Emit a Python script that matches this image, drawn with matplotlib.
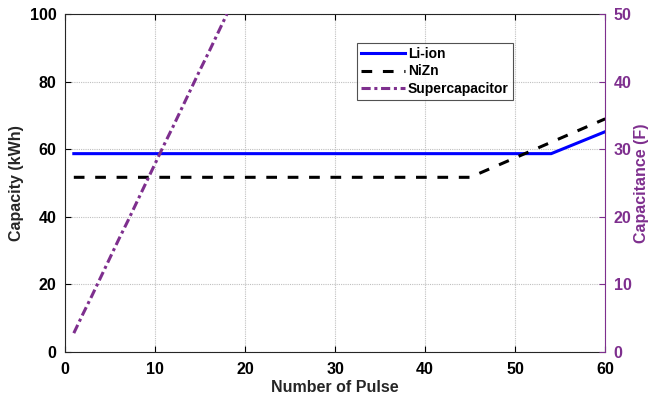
import matplotlib
matplotlib.use('Agg')
import matplotlib.pyplot as plt

plt.rcParams['font.family'] = ['Liberation Sans', 'DejaVu Sans']
plt.rcParams['font.weight'] = 'bold'

# data
li_x = [1, 54, 60]
li_y = [58.7, 58.7, 65.2]
nizn_x = [1, 45, 60]
nizn_y = [51.7, 51.7, 69.0]
sc_x = list(range(1, 19))
sc_y = [2.8, 5.6, 8.3, 11.1, 13.9, 16.7, 19.4, 22.2, 25.0, 27.8,
        30.6, 33.3, 36.1, 38.9, 41.7, 44.4, 47.2, 50.0]

purple = '#7E2F8E'

fig = plt.figure(figsize=(6.48, 4.01), dpi=100)
ax = fig.add_axes([0.100, 0.122, 0.834, 0.843])
ax2 = ax.twinx()

l1, = ax.plot(li_x, li_y, color='#0000FF', lw=2.2, label='Li-ion')
l2, = ax.plot(nizn_x, nizn_y, color='black', lw=2.2, ls=(0, (3.5, 3.5)), label='NiZn')
l3, = ax2.plot(sc_x, sc_y, color=purple, lw=2.2, ls=(0, (3, 1.2, 1, 1.2)), label='Supercapacitor')

ax.set_xlim(0, 60)
ax.set_ylim(0, 100)
ax2.set_ylim(0, 50)
ax.set_xticks(range(0, 61, 10))
ax.set_yticks(range(0, 101, 20))
ax2.set_yticks(range(0, 51, 10))

ax.grid(True, ls=(0, (1, 1)), color='#c0c0c0', lw=0.8)
ax.tick_params(direction='in', labelsize=11.5, top=True, length=4, width=0.8)
ax.tick_params(axis='x', pad=7)
ax.tick_params(axis='y', pad=6)
ax2.tick_params(direction='in', labelsize=11.5, colors=purple, length=4, width=0.8, pad=6)
for lab in ax.get_xticklabels() + ax.get_yticklabels() + ax2.get_yticklabels():
    lab.set_fontweight('bold')

ax2.spines['right'].set_color(purple)
ax.spines['right'].set_visible(False)
for s in ['left', 'top', 'bottom']:
    ax.spines[s].set_color('#262626')
ax2.spines['left'].set_visible(False)
ax2.spines['top'].set_visible(False)
ax2.spines['bottom'].set_visible(False)

ax.set_xlabel('Number of Pulse', fontsize=11.5, fontweight='bold', color='#262626', labelpad=2)
ax.set_ylabel('Capacity (kWh)', fontsize=11.5, fontweight='bold', color='#262626', labelpad=4)
ax2.set_ylabel('Capacitance (F)', fontsize=11.5, fontweight='bold', color=purple, labelpad=2)

leg = ax2.legend(handles=[l1, l2, l3], loc='upper left', bbox_to_anchor=(0.54, 0.915),
                 fontsize=10, frameon=True, fancybox=False, handlelength=3.2,
                 handletextpad=0.2, borderpad=0.3, labelspacing=0.25, borderaxespad=0)
leg.get_frame().set_edgecolor('#262626')
leg.get_frame().set_linewidth(0.8)
for t in leg.get_texts():
    t.set_fontweight('bold')

fig.savefig('out.png', dpi=100)
